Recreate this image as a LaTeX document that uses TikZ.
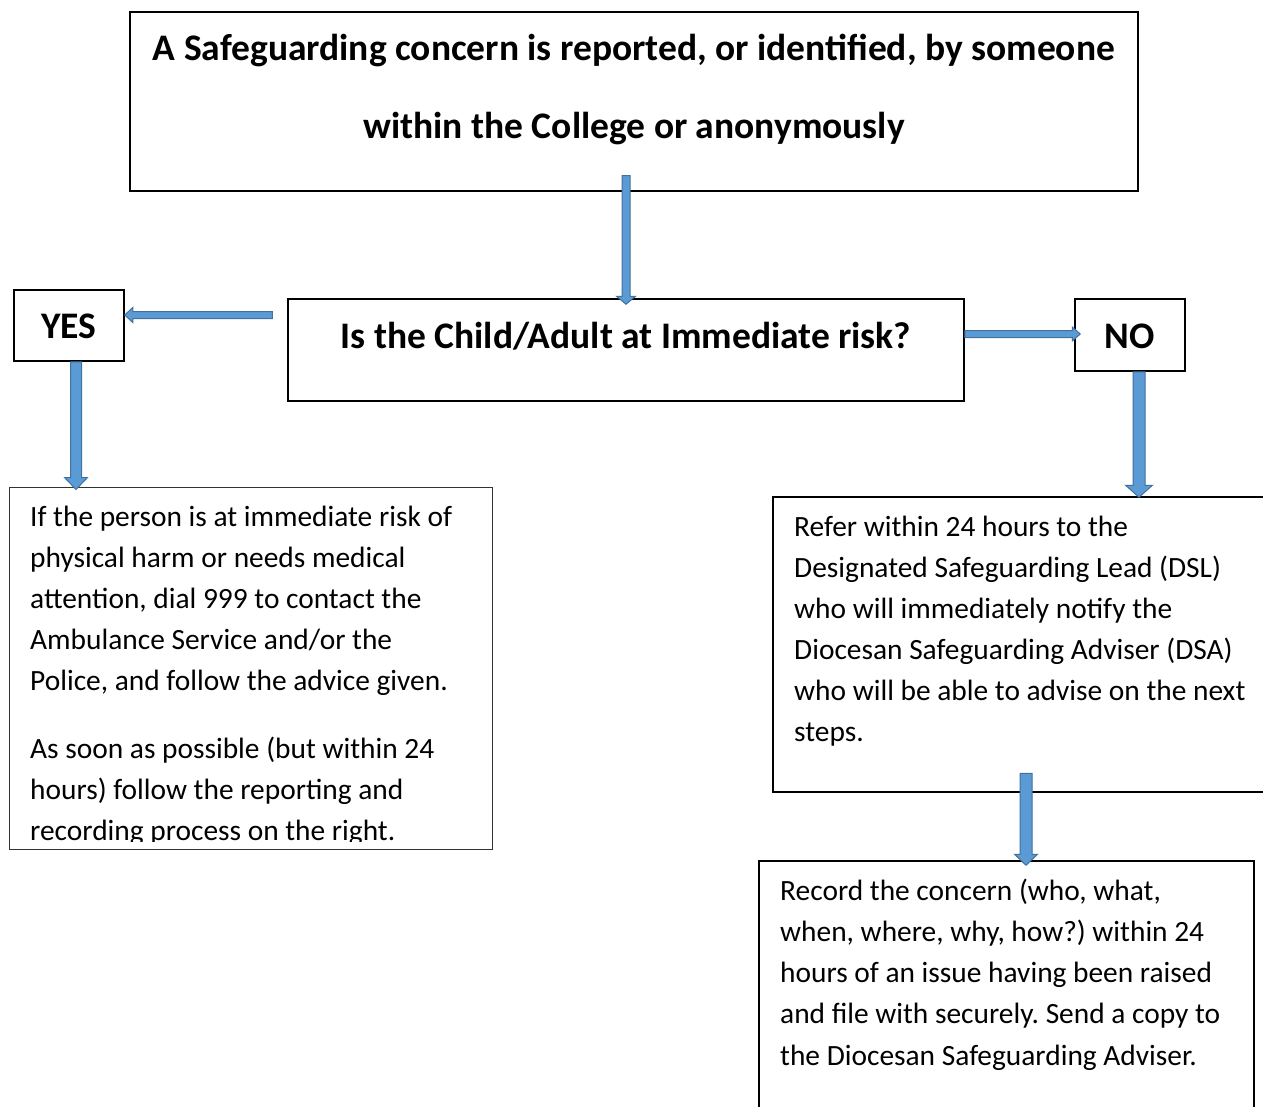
\documentclass[tikz,border=0pt]{standalone}
\usepackage{fontspec}
\setmainfont{Carlito}
\usetikzlibrary{calc}
\frenchspacing
\definecolor{afill}{HTML}{5B9BD5}
\definecolor{aborder}{HTML}{41719C}
\newcommand\blkarrow[5]{%
  \draw[blkarr] let \p1=(#4), \p2=(#5),
    \n1={atan2(\y2-\y1,\x2-\x1)},
    \n2={veclen(\x2-\x1,\y2-\y1)-#3},
    \n3={veclen(\x2-\x1,\y2-\y1)} in
    [shift={(\x1,\y1)}, rotate=\n1]
    (0pt,-#1pt) -- (\n2,-#1pt) -- (\n2,-#2pt) -- (\n3,0pt)
    -- (\n2,#2pt) -- (\n2,#1pt) -- (0pt,#1pt) -- cycle;}
\begin{document}
\begin{tikzpicture}[x=1pt,y=-1pt,
  box/.style={draw=black,line width=1.5pt,rectangle,inner sep=0pt},
  thinbox/.style={draw=black!80,line width=1pt,rectangle,inner sep=0pt},
  body/.style={anchor=north west,inner sep=0pt,align=left,font=\fontsize{29.4}{41}\selectfont\frenchspacing},
  head/.style={inner sep=0pt,font=\bfseries\fontsize{37.5}{45}\selectfont},
  blkarr/.style={fill=afill,draw=aborder,line width=1pt}]
\clip (0,0) rectangle (1263,1107);
\fill[white] (0,0) rectangle (1263,1107);
% boxes
\node[box,minimum width=1008pt,minimum height=179pt] (top) at (634,101.5) {};
\node[box,minimum width=676pt,minimum height=102pt] (q) at (626,350) {};
\node[box,minimum width=110pt,minimum height=71pt] (yes) at (69,325.5) {};
\node[box,minimum width=110pt,minimum height=72pt] (no) at (1130,335) {};
\node[thinbox,minimum width=483pt,minimum height=362pt] (left) at (250.5,668) {};
\node[box,minimum width=502pt,minimum height=295pt] (dsl) at (1024,644.5) {};
\node[box,minimum width=495pt,minimum height=259pt] (rec) at (1006.5,990.5) {};
% texts
\node[anchor=north,inner sep=0pt,align=center,font=\bfseries\fontsize{37.5}{78}\selectfont] (toptext) at (634,20.5)
  {\rule{0pt}{40pt}A Safeguarding concern is reported, or identified, by someone\\within the College or anonymously};
\node[head,anchor=base] (qtext) at (626,348) {Is the Child/Adult at Immediate risk?};
\node[head,anchor=base] (yestext) at (69,338) {YES};
\node[head,anchor=base] (notext) at (1130,348) {NO};
\begin{scope}
\clip (left.north west) rectangle ($(left.south east)+(0,-8)$);
\node[body] (lefttext) at (30,496) {\rule{0pt}{30pt}If the person is at immediate risk of\\
physical harm or needs medical\\
attention, dial 999 to contact the\\
Ambulance Service and/or the\\
Police, and follow the advice given.\\[27pt]
As soon as possible (but within 24\\
hours) follow the reporting and\\
recording process on the right.};
\end{scope}
\node[body] (dsltext) at (794,506) {\rule{0pt}{30pt}Refer within 24 hours to the\\
Designated Safeguarding Lead (DSL)\\
who will immediately notify the\\
Diocesan Safeguarding Adviser (DSA)\\
who will be able to advise on the next\\
steps.};
\node[body,font=\fontsize{29.4}{41.25}\selectfont\frenchspacing] (rectext) at (780,870) {\rule{0pt}{30pt}Record the concern (who, what,\\
when, where, why, how?) within 24\\
hours of an issue having been raised\\
and file with securely. Send a copy to\\
the Diocesan Safeguarding Adviser.};
% arrows
\blkarrow{4}{9.5}{8}{$(q.north |- top.south)+(0,-16)$}{$(q.north)+(0,6)$}
\blkarrow{3.5}{7.5}{8}{$(q.west |- yes.east)+(-15,-10.5)$}{$(yes.east)+(0,-10.5)$}
\blkarrow{5.5}{11.5}{12}{$(yes.south)+(7,0)$}{$(yes.south |- left.north)+(7,3)$}
\blkarrow{3.5}{7}{8}{$(q.east |- no.west)+(0,-1)$}{$(no.west)+(6,-1)$}
\blkarrow{6}{13.5}{12}{$(no.south)+(9,0)$}{$(no.south |- dsl.north)+(9,1)$}
\blkarrow{6}{11.5}{11}{$(rec.north -| dsl.south)+(2,-87)$}{$(rec.north -| dsl.south)+(2,5)$}
\end{tikzpicture}
\end{document}
